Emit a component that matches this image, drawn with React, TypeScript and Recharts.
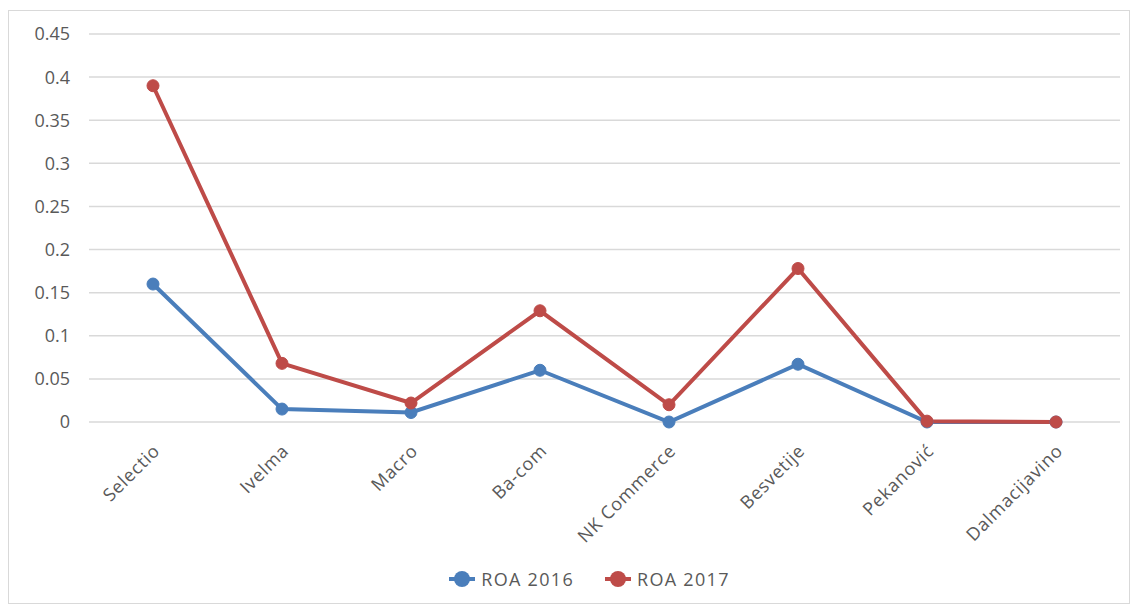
import React from "react";
import { LineChart, Line, XAxis, YAxis, CartesianGrid, Legend } from "recharts";

const companies = [
  "Selectio",
  "Ivelma",
  "Macro",
  "Ba-com",
  "NK Commerce",
  "Besvetije",
  "Pekanović",
  "Dalmacijavino",
];
const roa2016 = [0.16, 0.015, 0.011, 0.06, 0, 0.067, 0, 0];
const roa2017 = [0.39, 0.068, 0.022, 0.129, 0.02, 0.178, 0.001, 0];
const yTicks = [0, 0.05, 0.1, 0.15, 0.2, 0.25, 0.3, 0.35, 0.4, 0.45];

const data = companies.map((name, i) => ({
  name,
  r2016: roa2016[i],
  r2017: roa2017[i],
}));

const FONT = "'Open Sans', 'DejaVu Sans', sans-serif";
const TEXT = "#595959";
const BLUE = "#4a7ebb";
const RED = "#be4b48";

function AngledTick(props: any) {
  const { x, y, payload } = props;
  return (
    <g transform={`translate(${x + 8},${y + 22})`}>
      <text
        transform="rotate(-45)"
        textAnchor="end"
        fill={TEXT}
        fontSize={18}
        letterSpacing={0.8}
        fontFamily={FONT}
      >
        {payload.value}
      </text>
    </g>
  );
}

function LegendContent() {
  const items = [
    { label: "ROA 2016", color: BLUE },
    { label: "ROA 2017", color: RED },
  ];
  return (
    <div style={{ display: "flex", justifyContent: "center", gap: 30, paddingLeft: 58 }}>
      {items.map((it) => (
        <div key={it.label} style={{ display: "flex", alignItems: "center" }}>
          <svg width={28} height={18}>
            <line x1={1} y1={9} x2={27} y2={9} stroke={it.color} strokeWidth={4} />
            <circle cx={14} cy={9} r={8} fill={it.color} />
          </svg>
          <span
            style={{
              marginLeft: 5,
              fontFamily: FONT,
              fontSize: 18,
              letterSpacing: 1.3,
              color: TEXT,
            }}
          >
            {it.label}
          </span>
        </div>
      ))}
    </div>
  );
}

export default function App() {
  return (
    <div
      style={{
        position: "absolute",
        left: 0,
        top: 0,
        width: 1138,
        height: 611,
        background: "#fff",
      }}
    >
      <div
        style={{
          position: "absolute",
          left: 8,
          top: 10,
          width: 1122,
          height: 594,
          border: "1px solid #d9d9d9",
          boxSizing: "border-box",
        }}
      />
      <LineChart
        width={1138}
        height={611}
        data={data}
        margin={{ top: 34, right: 18, left: 0, bottom: 0 }}
        style={{ position: "absolute", left: 0, top: 0 }}
      >
        <CartesianGrid vertical={false} stroke="#d9d9d9" strokeWidth={1.5} />
        <XAxis
          dataKey="name"
          axisLine={false}
          tickLine={false}
          interval={0}
          height={145}
          padding={{ left: 64, right: 64 }}
          tick={<AngledTick />}
        />
        <YAxis
          width={89}
          domain={[0, 0.45]}
          ticks={yTicks}
          axisLine={false}
          tickLine={false}
          tickMargin={13}
          tick={{ fill: TEXT, fontSize: 18, fontFamily: FONT }}
        />
        <Legend verticalAlign="bottom" content={<LegendContent />} height={44} />
        <Line
          dataKey="r2016"
          name="ROA 2016"
          stroke={BLUE}
          strokeWidth={4}
          dot={{ r: 6, fill: BLUE, stroke: BLUE, strokeWidth: 1 }}
          isAnimationActive={false}
        />
        <Line
          dataKey="r2017"
          name="ROA 2017"
          stroke={RED}
          strokeWidth={4}
          dot={{ r: 6, fill: RED, stroke: RED, strokeWidth: 1 }}
          isAnimationActive={false}
        />
      </LineChart>
    </div>
  );
}
